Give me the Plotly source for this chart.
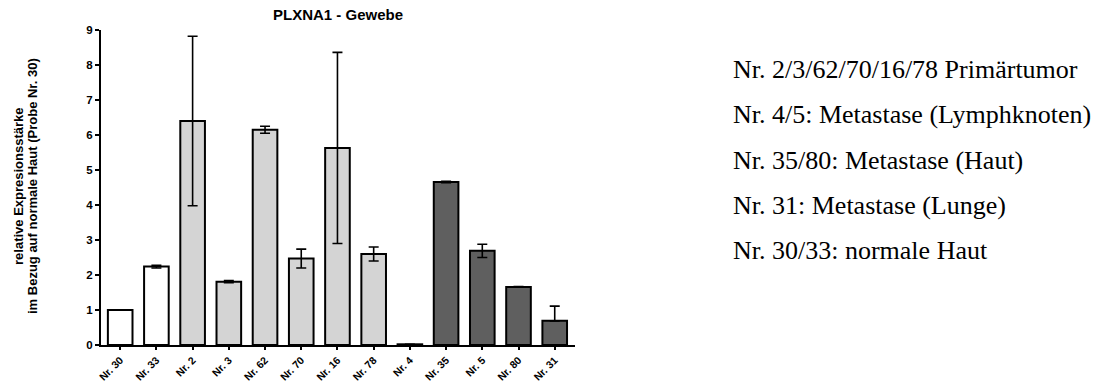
import plotly.graph_objects as go

# Samples (tissue) and relative expression values
samples = ["Nr. 30", "Nr. 33", "Nr. 2", "Nr. 3", "Nr. 62", "Nr. 70", "Nr. 16",
           "Nr. 78", "Nr. 4", "Nr. 35", "Nr. 5", "Nr. 80", "Nr. 31"]
expression = [1.0, 2.24, 6.40, 1.81, 6.15, 2.47, 5.63, 2.60, 0.02, 4.66, 2.69, 1.66, 0.69]
err_plus = [0.0, 0.04, 2.42, 0.03, 0.10, 0.27, 2.73, 0.20, 0.0, 0.02, 0.19, 0.01, 0.42]
err_minus = [0.0, 0.04, 2.42, 0.03, 0.10, 0.27, 2.73, 0.20, 0.0, 0.02, 0.19, 0.01, 0.0]
tissue_group = ["normal", "normal", "primary", "primary", "primary", "primary", "primary",
                "primary", "metastasis", "metastasis", "metastasis", "metastasis", "metastasis"]

group_colors = {"normal": "#ffffff", "primary": "#d4d4d4", "metastasis": "#5f5f5f"}

legend_lines = [
    "Nr. 2/3/62/70/16/78 Primärtumor",
    "Nr. 4/5: Metastase (Lymphknoten)",
    "Nr. 35/80: Metastase (Haut)",
    "Nr. 31: Metastase (Lunge)",
    "Nr. 30/33: normale Haut",
]

W, H = 1107, 385
L, R, T, B = 101, 532, 30, 40

sans = "Liberation Sans, Arial, sans-serif"

fig = go.Figure()
fig.add_trace(go.Bar(
    x=list(range(len(samples))),
    y=expression,
    width=0.68,
    marker=dict(color=[group_colors[g] for g in tissue_group],
                line=dict(color="black", width=2)),
    error_y=dict(type="data", symmetric=False, array=err_plus, arrayminus=err_minus,
                 color="black", thickness=1.6, width=5),
    showlegend=False,
))

fig.update_layout(
    width=W, height=H,
    margin=dict(l=L, r=R, t=T, b=B),
    paper_bgcolor="white", plot_bgcolor="white",
    bargap=0.32,
)

fig.update_xaxes(
    range=[-0.53, 12.56], automargin=False,
    tickmode="array", tickvals=list(range(len(samples))), ticktext=samples,
    tickangle=-45,
    tickfont=dict(family=sans, size=10.5, color="black", weight="bold"),
    showline=True, linecolor="black", linewidth=2,
    ticks="outside", ticklen=3, tickwidth=2, tickcolor="black",
    showgrid=False, zeroline=False,
)
fig.update_yaxes(
    range=[0, 9], tickmode="linear", tick0=0, dtick=1, automargin=False,
    tickfont=dict(family=sans, size=11.5, color="black", weight="bold"),
    showline=True, linecolor="black", linewidth=2,
    ticks="outside", ticklen=4, tickwidth=2, tickcolor="black",
    showgrid=False, zeroline=False,
)

# Chart title
fig.add_annotation(
    xref="paper", yref="paper",
    x=0.5, y=(H - 15 - B) / (H - T - B),
    text="PLXNA1 - Gewebe", showarrow=False,
    xanchor="center", yanchor="middle",
    font=dict(family=sans, size=15, color="black", weight="bold"),
)

# Two-line y-axis title
def px_x(px):
    return (px - L) / (W - L - R)

def px_y(py):
    return (H - B - py) / (H - T - B)

for xpos, line in [(18, "relative Expresionsstärke"),
                   (32, "im Bezug auf normale Haut (Probe Nr. 30)")]:
    fig.add_annotation(
        xref="paper", yref="paper", x=px_x(xpos), y=px_y(186),
        text=line, showarrow=False, textangle=-90,
        xanchor="center", yanchor="middle",
        font=dict(family=sans, size=13, color="black", weight="bold"),
    )

# Sample group descriptions
for i, line in enumerate(legend_lines):
    fig.add_annotation(
        xref="paper", yref="paper", x=px_x(731), y=px_y(69 + 45.5 * i),
        text=line, showarrow=False,
        xanchor="left", yanchor="middle",
        font=dict(family="Liberation Serif, Times New Roman, serif", size=26, color="black"),
    )

fig.write_html("out.html")
